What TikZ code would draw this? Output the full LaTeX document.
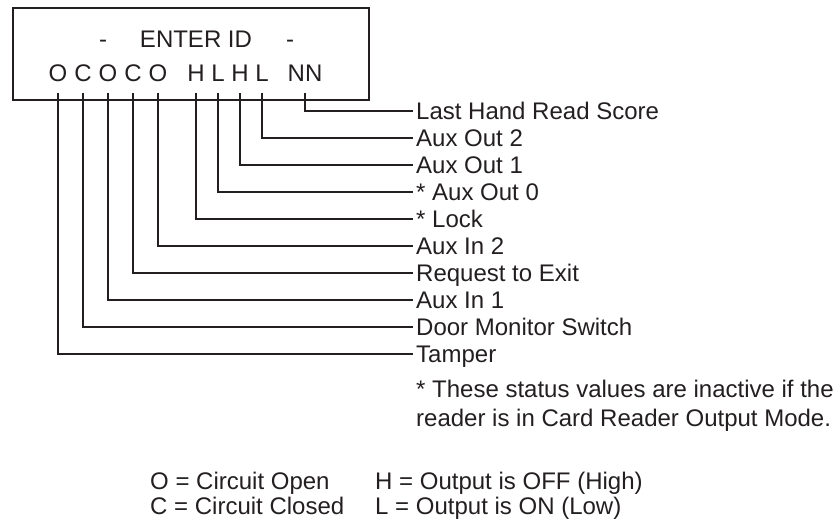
\documentclass[tikz,border=0pt]{standalone}
\usepackage{fontspec}
\setmainfont{Liberation Sans}
\definecolor{inkc}{HTML}{231F20}
\begin{document}
\begin{tikzpicture}[x=1pt,y=-1pt,
  ink/.style={line width=2pt, draw=inkc},
  txt/.style={font=\fontsize{24}{28}\selectfont, text=inkc, inner sep=0pt},
  lab/.style={txt, anchor=west, text height=17.2pt, text depth=0pt, inner xsep=3pt, inner ysep=0pt},
  letter/.style={txt, anchor=base},
  note/.style={txt, anchor=base west}
]
\useasboundingbox (0,0) rectangle (840,524);
% display box
\node[ink, draw, anchor=north west, minimum width=356pt, minimum height=92pt, inner sep=0pt] (display) at (12,7) {};
% top line
\node[letter] (d1) at (103,48) {-};
\node[letter] (title) at (196,48) {ENTER ID};
\node[letter] (d2) at (290,48) {-};
% status letters
\node[letter] (s1) at (58,82) {O};
\node[letter] (s2) at (83,82) {C};
\node[letter] (s3) at (108,82) {O};
\node[letter] (s4) at (133,82) {C};
\node[letter] (s5) at (158,82) {O};
\node[letter] (s6) at (196,82) {H};
\node[letter] (s7) at (218,82) {L};
\node[letter] (s8) at (240,82) {H};
\node[letter] (s9) at (262,82) {L};
\node[letter] (s10) at (305,82) {NN};
% tick start coordinates
\coordinate (c1) at (58,93);
\coordinate (c2) at (83,93);
\coordinate (c3) at (108,93);
\coordinate (c4) at (133,93);
\coordinate (c5) at (158,93);
\coordinate (c6) at (196,93);
\coordinate (c7) at (218,93);
\coordinate (c8) at (240,93);
\coordinate (c9) at (262,93);
\coordinate (c10) at (305,93);
% labels
\node[lab] (l10) at (413,111) {Last Hand Read Score};
\node[lab] (l9) at (413,138) {Aux Out 2};
\node[lab] (l8) at (413,165) {Aux Out 1};
\node[lab] (l7) at (413,192) {* Aux Out 0};
\node[lab] (l6) at (413,219) {* Lock};
\node[lab] (l5) at (413,246) {Aux In 2};
\node[lab] (l4) at (413,273) {Request to Exit};
\node[lab] (l3) at (413,300) {Aux In 1};
\node[lab] (l2) at (413,327) {Door Monitor Switch};
\node[lab] (l1) at (413,354) {Tamper};
% connectors
\foreach \i in {1,...,10} {
  \draw[ink] (c\i) |- (l\i.west);
}
% footnote
\node[note] (fn1) at (416,397) {* These status values are inactive if the};
\node[note] (fn2) at (416,426) {reader is in Card Reader Output Mode.};
% legend
\node[note] (lg1) at (150,489) {O = Circuit Open};
\node[note] (lg2) at (150,514) {C = Circuit Closed};
\node[note] (lg3) at (375,489) {H = Output is OFF (High)};
\node[note] (lg4) at (375,514) {L = Output is ON (Low)};
\end{tikzpicture}
\end{document}
